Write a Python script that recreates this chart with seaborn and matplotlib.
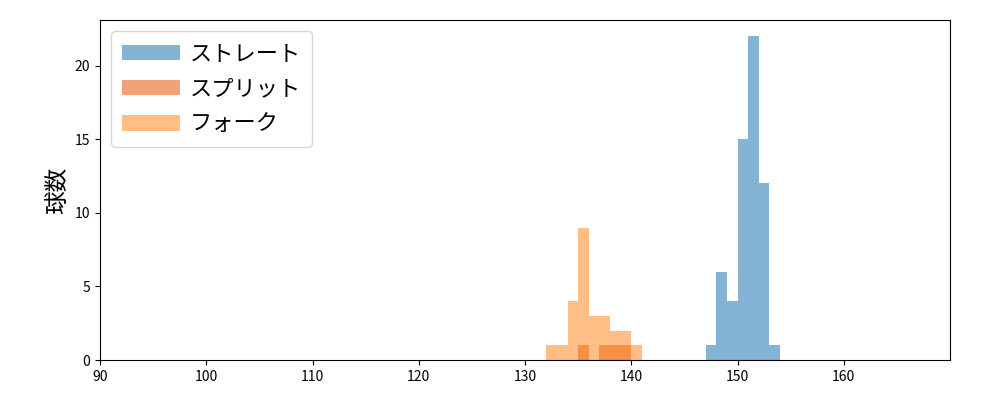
import matplotlib
matplotlib.use("Agg")
import matplotlib.pyplot as plt
import seaborn as sns
import numpy as np
import pandas as pd

plt.rcParams['font.family'] = ['Noto Sans CJK JP', 'DejaVu Sans']

# bin left edges (km/h) and counts per pitch type
straight_bins = [147, 148, 149, 150, 151, 152, 153]
straight_counts = [1, 6, 4, 15, 22, 12, 1]
split_bins = [135, 137, 138, 139]
split_counts = [1, 1, 1, 1]
fork_bins = [132, 133, 134, 135, 136, 137, 138, 139, 140]
fork_counts = [1, 1, 4, 9, 3, 3, 2, 2, 1]

labels = ['ストレート', 'スプリット', 'フォーク']
colors = ['#1f77b4', '#ea6018', '#ff7f0e']
alphas = [0.55, 0.58, 0.5]
x_ticks = [90, 100, 110, 120, 130, 140, 150, 160]

fig, ax = plt.subplots(figsize=(10, 4), dpi=100)
fig.subplots_adjust(left=0.1, right=0.95, top=0.95, bottom=0.1)

series = [(straight_bins, straight_counts), (split_bins, split_counts), (fork_bins, fork_counts)]
for (bins, counts), lab, col, a in zip(series, labels, colors, alphas):
    df = pd.DataFrame({'velo': np.array(bins) + 0.5, 'n': counts})
    sns.histplot(data=df, x='velo', weights='n', binwidth=1, binrange=(min(bins), max(bins) + 1),
                 color=col, alpha=a, edgecolor='none', linewidth=0, ax=ax, label=lab)

ax.set_xlim(90, 170)
ax.set_xticks(x_ticks)
ax.set_xlabel('')
ax.set_ylabel('球数', fontsize=17)
ax.legend(loc='upper left', fontsize=16, borderpad=0.5, labelspacing=0.55,
          handlelength=2.6, handletextpad=0.45)
fig.savefig('out.png')
